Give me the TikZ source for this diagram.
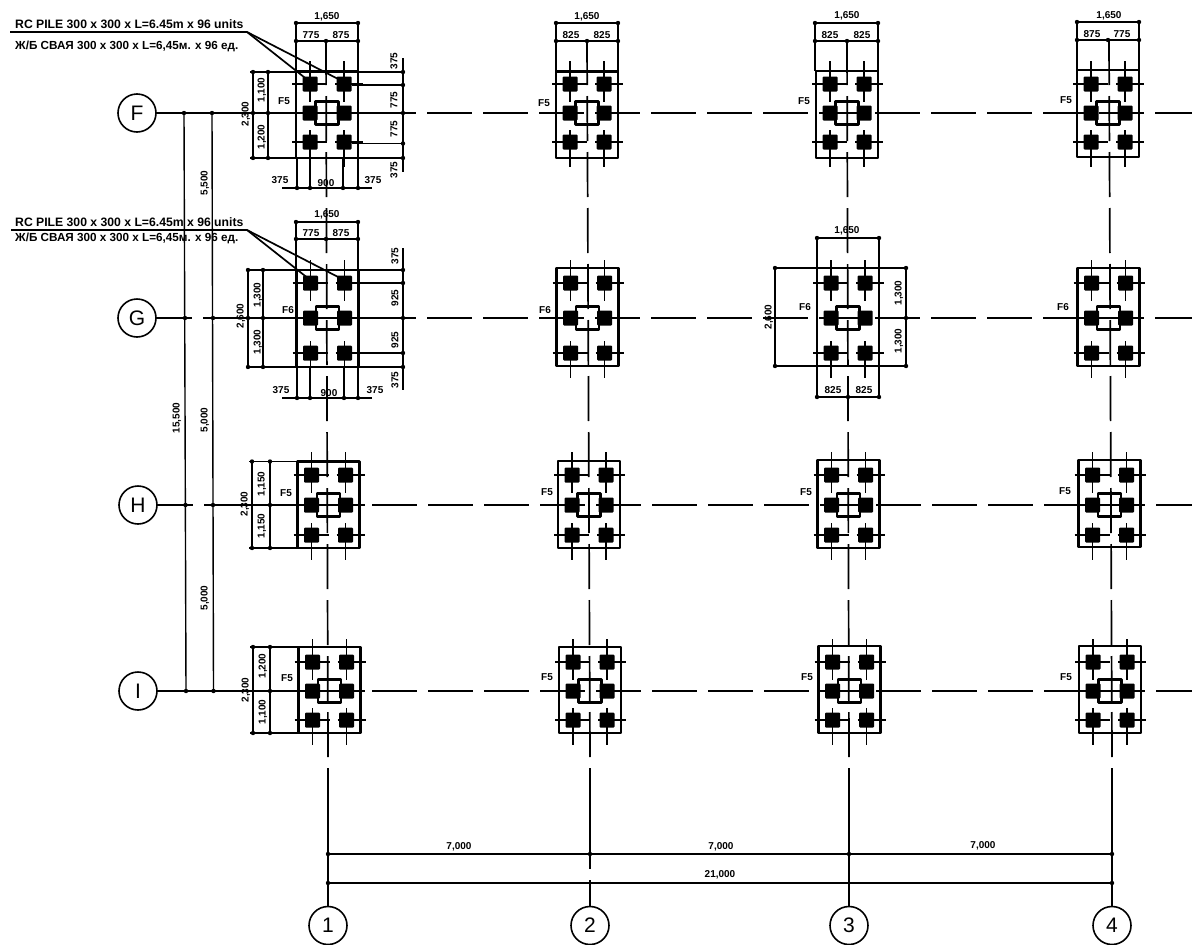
\documentclass[tikz,border=0pt]{standalone}
\usepackage{fontspec}
\setmainfont{Liberation Sans}
\newcounter{tl}
\tikzset{
  gridline/.style={line width=1.7pt,dash pattern=on 45pt off 11pt},
  solidline/.style={line width=1.7pt},
  dimline/.style={line width=1.4pt},
  thinline/.style={line width=1.2pt},
  boxline/.style={line width=2.4pt,line join=round},
  pedline/.style={line width=2.2pt,line join=round},
  pilefill/.style={fill=black,rounded corners=1pt},
  bubble/.style={circle,draw,line width=1.6pt,minimum size=38pt,inner sep=0pt,outer sep=0pt,font=\fontsize{21}{21}\selectfont},
  dimtext/.style={font=\bfseries\fontsize{10}{10}\selectfont,inner sep=0pt},
  notetext/.style={font=\bfseries\fontsize{12.2}{13}\selectfont,inner sep=0pt,anchor=west},
  notetextb/.style={font=\bfseries\fontsize{11.7}{13}\selectfont,inner sep=0pt,anchor=west}
}
% text helpers
\newcommand{\lab}[3]{\stepcounter{tl}\node[dimtext] (t\thetl) at (#1,#2) {#3};}
\newcommand{\labr}[3]{\stepcounter{tl}\node[dimtext,rotate=90] (t\thetl) at (#1,#2) {#3};}
\newcommand{\dt}[2]{\fill (#1,#2) circle (2.2pt);}
% footing: cx, row y, top, bottom, pile dy
\newcommand{\footing}[5]{%
  \draw[boxline] ({#1-31},#3) rectangle ({#1+31},#4);
  \foreach \sx in {-17,17}{
    \draw[thinline] ({#1+\sx},{#2-#5-23}) -- ({#1+\sx},{#2-#5+18});
    \draw[thinline] ({#1+\sx},{#2+#5-12}) -- ({#1+\sx},{#2+#5+25});
    \foreach \sy in {-1,0,1}{
      \fill[pilefill] ({#1+\sx-7.5},{#2+\sy*#5-7.5}) rectangle ({#1+\sx+7.5},{#2+\sy*#5+7.5});
    }
  }
  \foreach \sy in {-1,1}{
    \draw[dimline] ({#1-35},{#2+\sy*#5}) -- ({#1},{#2+\sy*#5});
    \draw[dimline] ({#1+8},{#2+\sy*#5}) -- ({#1+36},{#2+\sy*#5});
  }
  \draw[pedline] ({#1-11.5},{#2-11.5}) rectangle ({#1+11.5},{#2+11.5});
}
\begin{document}
\begin{tikzpicture}[x=1pt,y=-1pt]
\useasboundingbox (0,0) rectangle (1192,945);
\fill[white] (0,0) rectangle (1192,945);

% ---- grid bubbles
\node[bubble] (rF) at (137,113) {F};
\node[bubble] (rG) at (137,318) {G};
\node[bubble] (rH) at (138,505) {H};
\node[bubble] (rI) at (138,691) {I};
\node[bubble] (c1) at (328,925.5) {1};
\node[bubble] (c2) at (590,925.5) {2};
\node[bubble] (c3) at (849,925.5) {3};
\node[bubble] (c4) at (1112,925.5) {4};

% ---- row grid lines
\foreach \r/\y in {F/113,G/318,H/505,I/691}{
  \coordinate (e\r) at (1192,\y);
  \draw[gridline,dash phase=9pt] (r\r) -- (e\r);
}
\coordinate (dF) at (405,113); \coordinate (dG) at (405,318);
\coordinate (dH) at (365,505); \coordinate (dI) at (365,691);
\coordinate (sG) at (204,318); \coordinate (sH) at (204,505);
\draw[solidline] (rF) -- (dF);
\draw[solidline] (sG) -- (dG);
\draw[solidline] (sH) -- (dH);
\draw[solidline] (rI) -- (dI);

% ---- column grid lines
\foreach \c/\xt/\xm/\xn in {1/326/328/328,2/587/590/590,3/847/849/849,4/1109/1112/1112}{
  \coordinate (t\c) at (\xt,40);
  \coordinate (m\c) at (\xm,757);
  \coordinate (n\c) at (\xn,768);
  \draw[gridline] (t\c) -- (m\c);
}
\coordinate (g2a) at (590,869); \coordinate (g2b) at (590,880);
\draw[solidline] (n1) -- (c1);
\draw[solidline] (n2) -- (g2a);
\draw[solidline] (g2b) -- (c2);
\draw[solidline] (n3) -- (c3);
\draw[solidline] (n4) -- (c4);

% ---- footings
\footing{327}{113}{71.5}{158}{29}
\footing{587}{113}{71.5}{158}{29}
\footing{847}{113}{71}{158}{29}
\footing{1108}{113}{70}{157}{29}
\footing{327.5}{318}{270}{367}{35}
\footing{587.5}{318}{268}{366}{35}
\footing{848}{318}{268}{366}{35}
\footing{1108.5}{318}{268}{366}{35}
\footing{328.5}{505}{461.5}{548}{30}
\footing{589}{505}{461}{548}{30}
\footing{848.5}{505}{460}{548}{30}
\footing{1109.5}{505}{460}{547}{30}
\footing{329.5}{691}{647}{733}{29}
\footing{590}{691}{647}{733}{29}
\footing{849.5}{691}{646}{733}{29}
\footing{1110}{691}{646}{733}{29}

% ---- overall left dimensions
\draw[dimline] (184,113) -- (186,691);
\draw[dimline] (212,113) -- (213.5,691);
\foreach \x/\y in {184/113,212/113,185/318,213/318,185.5/505,213/505,186/691,213.5/691}{\dt{\x}{\y}}
\labr{205}{183}{5,500}
\labr{177}{418}{15,500}
\labr{205}{420}{5,000}
\labr{205}{598}{5,000}

% ---- overall bottom dimensions
\coordinate (b1) at (328,854); \coordinate (b4) at (1112,854);
\coordinate (a1) at (328,883); \coordinate (a4) at (1112,883);
\draw[dimline] (b1) -- (b4);
\draw[dimline] (a1) -- (a4);
\foreach \x/\y in {328/854,590/854,849/854,1112/854,328/883,1112/883}{\dt{\x}{\y}}
\lab{459}{847}{7,000}
\lab{721}{847}{7,000}
\lab{983}{846}{7,000}
\lab{720}{875}{21,000}

% ---- top dimensions, row F
\foreach \l/\m/\r/\ya/\yb/\top in {296/326/358/23/41/72,556/587/618/23/41/72,815/847/878/23/41/71,1077/1108/1139/22/40/70}{
  \draw[dimline] (\l,\ya) -- (\r,\ya);
  \draw[dimline] (\l,\yb) -- (\r,\yb);
  \draw[thinline] (\l,\ya) -- (\l,\top);
  \draw[thinline] (\r,\ya) -- (\r,\top);
  \dt{\l}{\ya}\dt{\r}{\ya}\dt{\l}{\yb}\dt{\r}{\yb}\dt{\m}{\yb}
}
\lab{327}{17}{1,650}\lab{311}{35}{775}\lab{341}{35}{875}
\lab{587}{17}{1,650}\lab{571}{35}{825}\lab{602}{35}{825}
\lab{847}{16}{1,650}\lab{830}{35}{825}\lab{862}{35}{825}
\lab{1109}{16}{1,650}\lab{1092}{34}{875}\lab{1122}{34}{775}

% ---- F1 side dimensions
\draw[dimline] (253,72) -- (253,158);
\draw[dimline] (268,72) -- (268,158);
\draw[dimline] (250,72) -- (297,72);
\draw[dimline] (250,158) -- (297,158);
\foreach \x/\y in {253/72,268/72,253/158,268/158,253/113,268/113}{\dt{\x}{\y}}
\labr{262}{90}{1,100}\labr{262}{137}{1,200}\labr{246}{114}{2,300}
\draw[dimline] (403,58) -- (403,172);
\draw[dimline] (358,72) -- (405,72);
\draw[dimline] (352,85) -- (405,85);
\draw[dimline] (352,143.5) -- (405,143.5);
\draw[dimline] (358,158) -- (405,158);
\foreach \y in {72,85,113,143.5,158}{\dt{403}{\y}}
\labr{394}{61}{375}\labr{394}{100}{775}\labr{394}{129}{775}\labr{394}{170}{375}
\draw[dimline] (282,188) -- (372,188);
\foreach \x in {297,310,343,358}{\draw[thinline] (\x,158) -- (\x,190);\dt{\x}{188}}
\lab{280}{180}{375}\lab{326}{183}{900}\lab{373}{180}{375}

% ---- G1 dimensions
\draw[dimline] (296,222) -- (358,222);
\draw[dimline] (296,239) -- (358,239);
\draw[thinline] (296,222) -- (296,270);
\draw[thinline] (358,222) -- (358,270);
\foreach \x/\y in {296/222,358/222,296/239,326/239,358/239}{\dt{\x}{\y}}
\lab{327}{215}{1,650}\lab{311}{233}{775}\lab{341}{233}{875}
\draw[dimline] (248,270) -- (248,367);
\draw[dimline] (263,270) -- (263,367);
\draw[boxline] (246,270) -- (297,270);
\draw[boxline] (246,367) -- (297,367);
\foreach \x/\y in {248/270,263/270,248/367,263/367,248/318,263/318}{\dt{\x}{\y}}
\labr{258}{295}{1,300}\labr{258}{342}{1,300}\labr{241}{316}{2,600}
\draw[dimline] (403,248) -- (403,390);
\draw[dimline] (358,270) -- (405,270);
\draw[dimline] (352,283) -- (405,283);
\draw[dimline] (352,353) -- (405,353);
\draw[dimline] (358,367) -- (405,367);
\foreach \y in {270,283,318,353,367}{\dt{403}{\y}}
\labr{395}{256}{375}\labr{395}{298}{925}\labr{395}{340}{925}\labr{395}{380}{375}
\draw[dimline] (282,398) -- (372,398);
\foreach \x in {297,310,344,358}{\draw[thinline] (\x,367) -- (\x,400);\dt{\x}{398}}
\lab{281}{390}{375}\lab{329}{393}{900}\lab{375}{390}{375}

% ---- G3 dimensions
\draw[dimline] (817,238) -- (879,238);
\draw[thinline] (817,238) -- (817,268);
\draw[thinline] (879,238) -- (879,268);
\dt{817}{238}\dt{879}{238}
\lab{847}{231}{1,650}
\draw[dimline] (775,268) -- (775,366);
\draw[boxline] (773,268) -- (817,268);
\draw[boxline] (773,366) -- (817,366);
\dt{775}{268}\dt{775}{366}
\labr{769}{317}{2,600}
\draw[dimline] (906,268) -- (906,366);
\draw[dimline] (879,268) -- (908,268);
\draw[dimline] (879,366) -- (908,366);
\dt{906}{268}\dt{906}{318}\dt{906}{366}
\labr{899}{293}{1,300}\labr{899}{341}{1,300}
\draw[dimline] (817,397) -- (879,397);
\draw[thinline] (817,366) -- (817,397);
\draw[thinline] (879,366) -- (879,397);
\foreach \x in {817,848,879}{\dt{\x}{397}}
\lab{833}{390}{825}\lab{864}{390}{825}

% ---- H1 and I1 side dimensions
\draw[dimline] (252,461.5) -- (252,548);
\draw[dimline] (270,461.5) -- (270,548);
\draw[dimline] (249,461.5) -- (298,461.5);
\draw[dimline] (249,548) -- (298,548);
\foreach \x/\y in {252/461.5,270/461.5,252/548,270/548,270/505}{\dt{\x}{\y}}
\labr{262}{484}{1,150}\labr{262}{526}{1,150}\labr{245}{504}{2,300}
\draw[dimline] (253,647) -- (253,733);
\draw[dimline] (270,647) -- (270,733);
\draw[dimline] (250,647) -- (299,647);
\draw[dimline] (250,733) -- (299,733);
\foreach \x/\y in {253/647,270/647,253/733,270/733,270/691}{\dt{\x}{\y}}
\labr{263}{666}{1,200}\labr{263}{712}{1,100}\labr{246}{690}{2,300}

% ---- footing marks
\lab{284}{101}{F5}\lab{544}{103}{F5}\lab{804}{101}{F5}\lab{1066}{100}{F5}
\lab{288}{310}{F6}\lab{545}{310}{F6}\lab{805}{307}{F6}\lab{1063}{307}{F6}
\lab{286}{493}{F5}\lab{547}{492}{F5}\lab{806}{492}{F5}\lab{1065}{491}{F5}
\lab{287}{678}{F5}\lab{547}{677}{F5}\lab{807}{677}{F5}\lab{1066}{677}{F5}

% ---- pile notes and leaders
\node[notetext] (noteFa) at (15,24) {RC PILE 300 x 300 x L=6.45m x 96 units};
\node[notetextb] (noteFb) at (15,46) {Ж/Б СВАЯ 300 x 300 x L=6,45м. x 96 ед.};
\coordinate (lFs) at (10,32); \coordinate (lFk) at (247,32);
\coordinate (lFp) at (309,81); \coordinate (lFq) at (342,81);
\draw[solidline] (lFs) -- (lFk) -- (lFp);
\draw[solidline] (lFk) -- (lFq);
\node[notetext] (noteGa) at (15,222) {RC PILE 300 x 300 x L=6.45m x 96 units};
\node[notetextb] (noteGb) at (15,238) {Ж/Б СВАЯ 300 x 300 x L=6,45м. x 96 ед.};
\coordinate (lGs) at (11,230); \coordinate (lGk) at (247,230);
\coordinate (lGp) at (309,279); \coordinate (lGq) at (342,279);
\draw[solidline] (lGs) -- (lGk) -- (lGp);
\draw[solidline] (lGk) -- (lGq);
\end{tikzpicture}
\end{document}
